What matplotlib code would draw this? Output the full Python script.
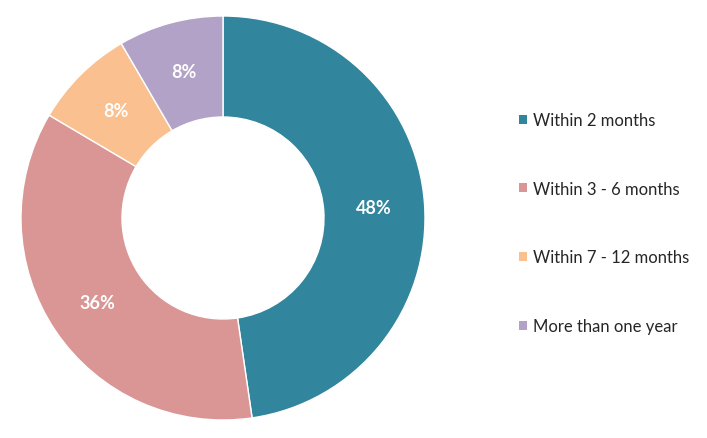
import matplotlib
matplotlib.use("Agg")
import matplotlib.pyplot as plt
from matplotlib.patches import Patch

plt.rcParams['font.family'] = ['Lato', 'DejaVu Sans']

categories = ['Within 2 months', 'Within 3 - 6 months', 'Within 7 - 12 months', 'More than one year']
shares = [47.7, 35.8, 8.1, 8.4]
colors = ['#31859C', '#D99694', '#FAC090', '#B3A2C7']

fig = plt.figure(figsize=(7.07, 4.39), dpi=100)
# pie axes: centre (223, 219) px, radius 202 px
ax = fig.add_axes([21 / 707, 18 / 439, 404 / 707, 404 / 439])

wedges, texts, autotexts = ax.pie(
    shares, colors=colors, startangle=90, counterclock=False, radius=1,
    wedgeprops=dict(width=0.5, edgecolor='white', linewidth=1),
    autopct=lambda p: '{:.0f}%'.format(p), pctdistance=0.75,
    textprops=dict(color='white', fontsize=13, fontweight='bold'))
ax.set_xlim(-1, 1)
ax.set_ylim(-1, 1)
ax.set_aspect('auto')

handles = [Patch(facecolor=c, edgecolor='none') for c in colors]
fig.legend(handles, categories, loc='upper left', bbox_to_anchor=(504 / 707, 1 - 98 / 439),
           frameon=False, fontsize=12, labelspacing=3.16, handlelength=0.45, handleheight=0.45,
           handletextpad=0.4, labelcolor='#262626')

fig.savefig('out.png', dpi=100)
